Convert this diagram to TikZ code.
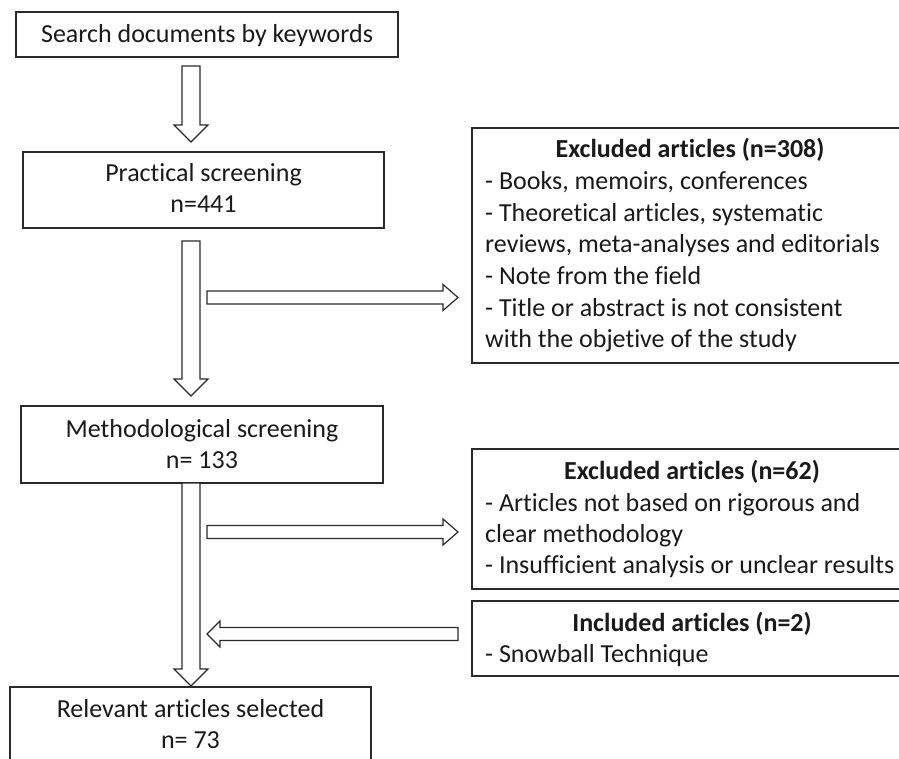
\documentclass[tikz,border=0pt]{standalone}
\usepackage{fontspec}
\setmainfont[RawFeature={-liga;-clig;-calt;-dlig}]{Carlito}
\definecolor{linec}{HTML}{2A2A2A}
\definecolor{textc}{HTML}{1A1A1A}
\newcommand\vblk[3]{\draw[blk] (#1-9,#2) -- (#1+9,#2) -- (#1+9,#3-17) -- (#1+17,#3-17) -- (#1,#3) -- (#1-17,#3-17) -- (#1-9,#3-17) -- cycle;}
\newcommand\hblk[4]{\draw[blk] (#2,#1-6.5) -- (#3,#1-6.5) -- (#3,#1-13) -- (#4,#1) -- (#3,#1+13) -- (#3,#1+6.5) -- (#2,#1+6.5) -- cycle;}
\begin{document}
\begin{tikzpicture}[x=1pt,y=-1pt,
  box/.style={draw=linec, line width=1.2pt, rectangle, inner sep=0pt},
  txt/.style={inner sep=0pt, text=textc, font=\fontsize{26}{31}\selectfont},
  hd/.style={inner sep=0pt, text=textc, font=\fontsize{26}{31}\selectfont\bfseries},
  blk/.style={draw=linec, line width=1.2pt, fill=white, line join=miter}]
\useasboundingbox (0,0) rectangle (899,759);
\fill[white] (0,0) rectangle (899,759);
\clip (0,0) rectangle (899,759);
% left column boxes
\node[box, minimum width=382pt, minimum height=45pt] (s1) at (207,34.5) {};
\node[box, minimum width=361pt, minimum height=76pt] (s2) at (203.5,190) {};
\node[box, minimum width=362pt, minimum height=77pt] (s3) at (202,444.5) {};
\node[box, minimum width=361pt, minimum height=103pt] (s4) at (190.5,738.5) {};
\node[txt, anchor=base] (s1a) at (207,43) {Search documents by keywords};
\node[txt, anchor=base] (s2a) at (203.5,182) {Practical screening};
\node[txt, anchor=base] (s2b) at (203.5,213) {n=441};
\node[txt, anchor=base] (s3a) at (202,437) {Methodological screening};
\node[txt, anchor=base] (s3b) at (202,468) {n= 133};
\node[txt, anchor=base] (s4a) at (190.5,717) {Relevant articles selected};
\node[txt, anchor=base] (s4b) at (190.5,748) {n= 73};
% right column boxes
\node[box, minimum width=438pt, minimum height=235pt] (r1) at (691,245.5) {};
\node[box, minimum width=438pt, minimum height=140pt] (r2) at (691,519) {};
\node[box, minimum width=438pt, minimum height=75pt] (r3) at (691,638.5) {};
\node[hd, anchor=base] (r1h) at (690,158) {Excluded articles (n=308)};
\node[txt, anchor=base west] (r1a) at (485,190) {- Books, memoirs, conferences};
\node[txt, anchor=base west] (r1b) at (485,222) {- Theoretical articles, systematic};
\node[txt, anchor=base west] (r1c) at (485,253) {reviews, meta-analyses and editorials};
\node[txt, anchor=base west] (r1d) at (485,284) {- Note from the field};
\node[txt, anchor=base west] (r1e) at (485,316) {- Title or abstract is not consistent};
\node[txt, anchor=base west] (r1f) at (485,347) {with the objetive of the study};
\node[hd, anchor=base] (r2h) at (692,479) {Excluded articles (n=62)};
\node[txt, anchor=base west] (r2a) at (485,511) {- Articles not based on rigorous and};
\node[txt, anchor=base west] (r2b) at (485,542) {clear methodology};
\node[txt, anchor=base west] (r2c) at (485,573) {- Insufficient analysis or unclear results};
\node[hd, anchor=base] (r3h) at (692,631) {Included articles (n=2)};
\node[txt, anchor=base west] (r3a) at (485,662) {- Snowball Technique};
% block arrows
\vblk{191}{66}{142}
\vblk{191}{241}{396}
\vblk{191}{483}{686}
\hblk{297.5}{207}{443}{458}
\hblk{532}{207}{443}{458}
\hblk{634}{458}{220}{207}
\end{tikzpicture}
\end{document}
